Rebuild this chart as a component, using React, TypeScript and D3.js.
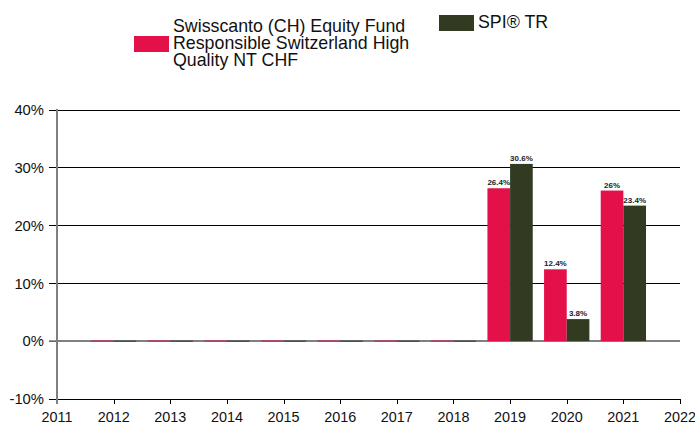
import React from "react";
import * as d3 from "d3";

const years = [2012, 2013, 2014, 2015, 2016, 2017, 2018, 2019, 2020, 2021];
const fundValues = [0, 0, 0, 0, 0, 0, 0, 26.4, 12.4, 26.0];
const indexValues = [0, 0, 0, 0, 0, 0, 0, 30.6, 3.8, 23.4];
const fundLabels = ["", "", "", "", "", "", "", "26.4%", "12.4%", "26%"];
const indexLabels = ["", "", "", "", "", "", "", "30.6%", "3.8%", "23.4%"];
const xTicks = [2011, 2012, 2013, 2014, 2015, 2016, 2017, 2018, 2019, 2020, 2021, 2022];
const yTicks = [-10, 0, 10, 20, 30, 40];
const fundName = ["Swisscanto (CH) Equity Fund", "Responsible Switzerland High", "Quality NT CHF"];
const indexName = "SPI\u00AE TR";

const RED = "#E3104A";
const GREEN = "#323B21";
const FONT = "'Liberation Sans', Arial, sans-serif";

export default function App() {
  const W = 695, H = 425;
  const x = d3.scaleLinear().domain([2011, 2022]).range([57, 680]);
  const y = d3.scaleLinear().domain([-10, 40]).range([399, 109.5]);
  const step = x(2012) - x(2011);
  const bw = step * 0.4;

  const barRect = (v: number, x0: number, color: string, key: string) => {
    const top = Math.min(y(v), y(0));
    const h = Math.abs(y(v) - y(0));
    return (
      <rect key={key} x={x0} y={h < 1 ? y(0) - 0.5 : top} width={bw} height={Math.max(h, 1)} fill={color} />
    );
  };

  return (
    <svg width={W} height={H} style={{ position: "absolute", left: 0, top: 0, background: "#fff" }} fontFamily={FONT}>
      {/* legend */}
      <rect x={134} y={36} width={35} height={16} fill={RED} />
      {fundName.map((t, i) => (
        <text key={t} x={173} y={31.5 + i * 17.2} fontSize={17.8} fill="#111">{t}</text>
      ))}
      <rect x={439} y={15} width={35} height={16} fill={GREEN} />
      <text x={478} y={27.5} fontSize={17.8} fill="#111">{indexName}</text>

      {/* gridlines */}
      {yTicks.filter((t) => t !== 0).map((t) => (
        <line key={t} x1={49} x2={680} y1={Math.round(y(t)) + 0.5} y2={Math.round(y(t)) + 0.5} stroke="#000" strokeWidth={1} />
      ))}
      <line x1={49} x2={57} y1={y(0)} y2={y(0)} stroke="#000" strokeWidth={1} />

      {/* y tick labels */}
      {yTicks.map((t) => (
        <text key={t} x={44} y={y(t)} dy="0.36em" textAnchor="end" fontSize={14.8} fill="#111">{t + "%"}</text>
      ))}

      {/* x axis ticks */}
      {xTicks.map((t) => (
        <g key={t}>
          <line x1={Math.round(x(t)) + 0.5} x2={Math.round(x(t)) + 0.5} y1={399} y2={404} stroke="#000" />
          <text x={x(t)} y={421.5} textAnchor="middle" fontSize={14.4} fill="#111">{String(t)}</text>
        </g>
      ))}

      {/* zero line */}
      <line x1={57} x2={680} y1={y(0)} y2={y(0)} stroke="#808080" strokeWidth={2} />

      {/* bars */}
      {years.map((yr, i) => (
        <g key={yr}>
          {barRect(fundValues[i], x(yr) - bw, RED, "f")}
          {barRect(indexValues[i], x(yr), GREEN, "s")}
          {fundLabels[i] && (
            <text x={x(yr) - bw / 2} y={y(fundValues[i]) - 3} textAnchor="middle" fontSize={8} fontWeight="bold" fill="#222">{fundLabels[i]}</text>
          )}
          {indexLabels[i] && (
            <text x={x(yr) + bw / 2} y={y(indexValues[i]) - 3} textAnchor="middle" fontSize={8} fontWeight="bold" fill="#222">{indexLabels[i]}</text>
          )}
        </g>
      ))}

      {/* bottom axis */}
      <line x1={57} x2={680} y1={399.5} y2={399.5} stroke="#000" strokeWidth={1} />
      {/* left axis */}
      <line x1={57} x2={57} y1={109} y2={404} stroke="#808080" strokeWidth={2} />
    </svg>
  );
}
